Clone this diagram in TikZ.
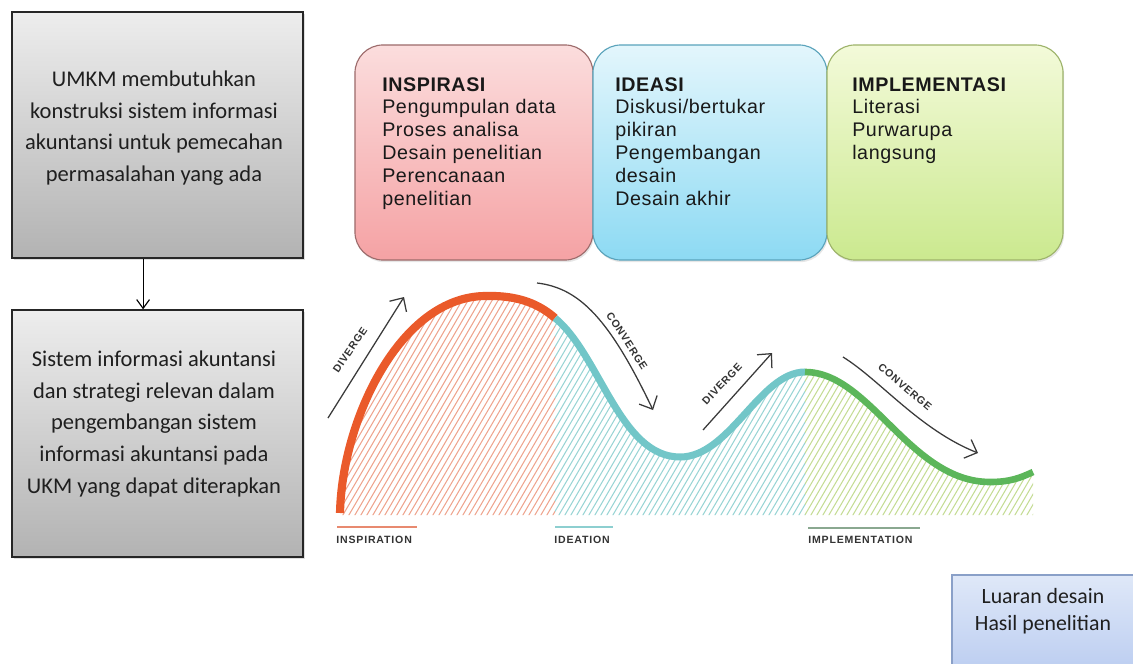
\documentclass[tikz,border=0pt]{standalone}
\usepackage{fontspec}
\newfontfamily\boxfont{Carlito}
\newfontfamily\cardfont[LetterSpace=3]{Liberation Sans}
\newfontfamily\tagfont[LetterSpace=8]{Liberation Sans}
\usetikzlibrary{arrows.meta,shadows}

\definecolor{inspcol}{HTML}{EA5A2A}
\definecolor{ideacol}{HTML}{72C6C8}
\definecolor{implcol}{HTML}{5CB65A}
\definecolor{inspline}{HTML}{EEA48E}
\definecolor{idealine}{HTML}{98D4D4}
\definecolor{implline}{HTML}{C4DC94}
\definecolor{arrowcol}{HTML}{3A3A3A}
% card colours
\definecolor{inspedge}{HTML}{9C6B6B}
\definecolor{insptop}{HTML}{FBDDDD}
\definecolor{inspbot}{HTML}{F5A2A4}
\definecolor{ideaedge}{HTML}{5AA3BB}
\definecolor{ideatop}{HTML}{E3F6FC}
\definecolor{ideabot}{HTML}{8DDAF3}
\definecolor{impledge}{HTML}{9DB36A}
\definecolor{impltop}{HTML}{F3FAD9}
\definecolor{implbot}{HTML}{CBE98F}
% underlines and outcome box
\definecolor{inspunder}{HTML}{E88A70}
\definecolor{ideaunder}{HTML}{8DCFD0}
\definecolor{implunder}{HTML}{8AA890}
\definecolor{outedge}{HTML}{8AA0C8}
\definecolor{outtop}{HTML}{DFE8F8}
\definecolor{outbot}{HTML}{B3C7EF}

\tikzset{
  graybox/.style={draw=black!85, line width=0.9pt, top color=black!7, bottom color=black!30,
    minimum width=7.275cm, minimum height=6.15cm, inner sep=0,
    drop shadow={opacity=0.25, shadow xshift=1.5pt, shadow yshift=-1.5pt}},
  graytext/.style={align=center, inner sep=0, text=black!88,
    font=\boxfont\fontsize{16}{22.5}\selectfont},
  card/.style={line width=0.8pt, rounded corners=0.7cm, minimum height=5.375cm, inner sep=0,
    drop shadow={opacity=0.2, shadow xshift=0.8pt, shadow yshift=-1.5pt}},
  cardtext/.style={anchor=north west, align=left, inner sep=0, text=black!90,
    font=\cardfont\fontsize{14}{16.3}\selectfont},
  flow/.style={draw=arrowcol, line width=0.9pt, -{Straight Barb[length=0.26cm,width=0.5cm]}},
  tag/.style={inner sep=0, text=black!80, font=\tagfont\bfseries\fontsize{7.5}{9}\selectfont}
}

\begin{document}
\begin{tikzpicture}[x=0.025cm,y=-0.025cm]
\useasboundingbox (0,0) rectangle (1133,664);
%\draw[very thin,gray,step=50] (0,0) grid (1133,664);

% left column
\node[graybox] (need) at (157.5,135) {};
\node[graytext] (needtxt) at (154,128) {UMKM membutuhkan\\konstruksi sistem informasi\\akuntansi untuk pemecahan\\permasalahan yang ada};
\node[graybox, minimum height=6.175cm] (goal) at (157.5,433.5) {};
\node[graytext] (goaltxt) at (154,424) {Sistem informasi akuntansi\\dan strategi relevan dalam\\pengembangan sistem\\informasi akuntansi pada\\UKM yang dapat diterapkan};
\draw[line width=0.8pt, -{Straight Barb[length=0.22cm,width=0.32cm]}]
  ([xshift=-0.36cm]need.south) -- ([xshift=-0.36cm]goal.north);

% the three phase cards
\node[card, draw=inspedge, top color=insptop, bottom color=inspbot, minimum width=5.95cm] (insp) at (474,152.5) {};
\node[card, draw=ideaedge, top color=ideatop, bottom color=ideabot, minimum width=5.85cm] (idea) at (710,152.5) {};
\node[card, draw=impledge, top color=impltop, bottom color=implbot, minimum width=5.9cm] (impl) at (945,152.5) {};
\node[cardtext] (insptxt) at (382,77) {\textbf{INSPIRASI}\\Pengumpulan data\\Proses analisa\\Desain penelitian\\Perencanaan\\penelitian};
\node[cardtext] (ideatxt) at (615,77) {\textbf{IDEASI}\\Diskusi/bertukar\\pikiran\\Pengembangan\\desain\\Desain akhir};
\node[cardtext] (impltxt) at (852,77) {\textbf{IMPLEMENTASI}\\Literasi\\Purwarupa\\langsung};

% hatching under the curve
\begin{scope}
  \clip (340,515) -- (340,513) .. controls (342,420) and (400,297) .. (485,296)
    .. controls (520,295) and (540,305) .. (555,318)
    .. controls (600,355) and (620,457) .. (680,457)
    .. controls (730,457) and (760,372) .. (805,372)
    .. controls (870,372) and (910,482) .. (990,482)
    .. controls (1010,482) and (1020,478) .. (1033,472) -- (1033,515) -- cycle;
  \begin{scope}
    \clip (330,280) rectangle (555,520);
    \foreach \x in {190,196,...,560} \draw[inspline, line width=0.75pt] (\x,520) -- (\x+140,280);
  \end{scope}
  \begin{scope}
    \clip (555,280) rectangle (805,520);
    \foreach \x in {412,418,...,810} \draw[idealine, line width=0.75pt] (\x,520) -- (\x+140,280);
  \end{scope}
  \begin{scope}
    \clip (805,280) rectangle (1040,520);
    \foreach \x in {664,670,...,1040} \draw[implline, line width=0.75pt] (\x,520) -- (\x+140,280);
  \end{scope}
\end{scope}

% the curve itself
\draw[inspcol, line width=5.8pt] (340,513) .. controls (342,420) and (400,297) .. (485,296)
  .. controls (520,295) and (540,305) .. (555,318);
\draw[ideacol, line width=5pt] (555,318) .. controls (600,355) and (620,457) .. (680,457)
  .. controls (730,457) and (760,372) .. (805,372);
\draw[implcol, line width=4.7pt] (805,372) .. controls (870,372) and (910,482) .. (990,482)
  .. controls (1010,482) and (1020,478) .. (1033,472);

% diverge / converge arrows
\draw[flow] (328,418) -- (404,297);
\node[tag, rotate=56] (div1) at (350,350) {DIVERGE};
\draw[flow] (537,283) .. controls (580,288) and (610,320) .. (653,410);
\node[tag, rotate=-57] (con1) at (627,341) {CONVERGE};
\draw[flow] (703,430) -- (772,353);
\node[tag, rotate=47] (div2) at (722,384) {DIVERGE};
\draw[flow] (843,357) .. controls (880,380) and (920,430) .. (978,453);
\node[tag, rotate=-40] (con2) at (905,387) {CONVERGE};

% phase names
\draw[inspunder, line width=1pt] (337,527) -- (417,527);
\node[tag, anchor=west] (insplbl) at (336,539.5) {INSPIRATION};
\draw[ideaunder, line width=1pt] (555,527) -- (613,527);
\node[tag, anchor=west] (idealbl) at (554,539.5) {IDEATION};
\draw[implunder, line width=1pt] (808,528) -- (920,528);
\node[tag, anchor=west] (impllbl) at (808,540) {IMPLEMENTATION};

% outcome box, cut by the page edge
\begin{scope}
  \clip (0,0) rectangle (1133,664);
  \node[draw=outedge, line width=0.8pt, top color=outtop, bottom color=outbot,
    minimum width=5cm, minimum height=3cm, inner sep=0] (outcome) at (1052,635) {};
\end{scope}
\node[graytext, font=\boxfont\fontsize{15.5}{19.5}\selectfont] (outtxt) at (1043,611) {Luaran desain\\Hasil penelitian};
\end{tikzpicture}
\end{document}
